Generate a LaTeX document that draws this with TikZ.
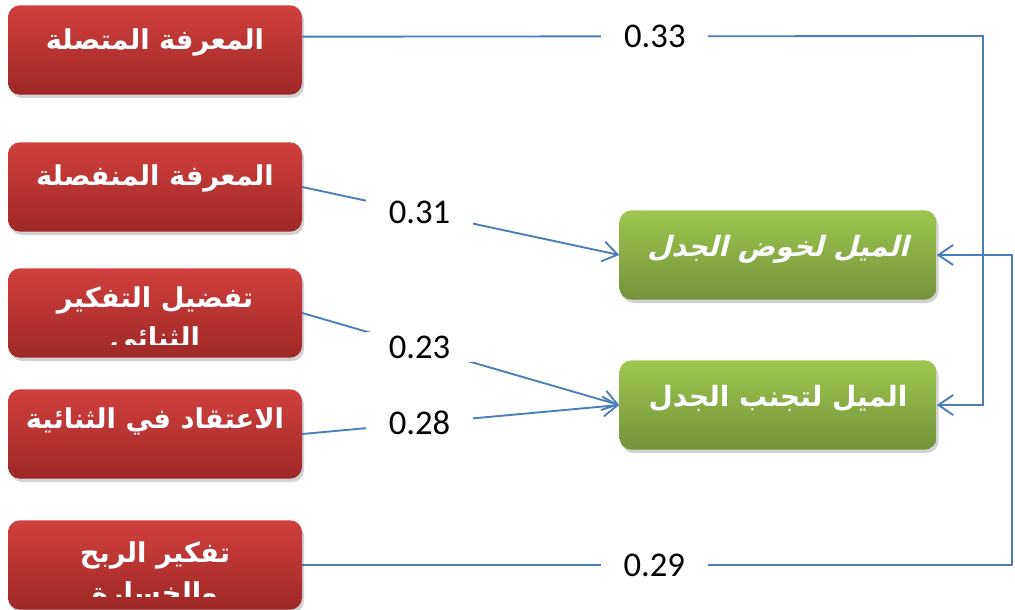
\documentclass[tikz,border=0pt]{standalone}
\usepackage{fontspec}
\setmainfont{Carlito}
\newfontfamily\arab[Script=Arabic]{DejaVu Sans}
\newfontfamily\arabit[Script=Arabic,FakeSlant=0.25]{DejaVu Sans}
\TeXXeTstate=1
\usetikzlibrary{arrows.meta,shadows}
\definecolor{lineblue}{RGB}{74,126,187}
\definecolor{redtop}{RGB}{208,64,62}
\definecolor{redbot}{RGB}{158,40,38}
\definecolor{greentop}{RGB}{158,198,80}
\definecolor{greenbot}{RGB}{116,146,58}
\tikzset{
  redbox/.style={rounded corners=9pt, top color=redtop, bottom color=redbot, draw=none,
    minimum width=220.5pt, minimum height=67pt, inner sep=0pt,
    drop shadow={shadow xshift=1.5pt, shadow yshift=-2.5pt, fill=black!35}},
  greenbox/.style={rounded corners=9pt, top color=greentop, bottom color=greenbot, draw=none,
    minimum width=237.75pt, minimum height=67pt, inner sep=0pt,
    drop shadow={shadow xshift=1.5pt, shadow yshift=-2.5pt, fill=black!35}},
  rtxt/.style={text=white, font=\arab\bfseries\fontsize{20.5}{30}\selectfont, align=center, inner sep=0pt},
  conn/.style={draw=lineblue, line width=1.4pt},
  arr/.style={conn, -{Straight Barb[length=11pt,width=15pt,line width=1.4pt]}},
  lbl/.style={fill=white, inner xsep=17pt, inner ysep=3pt, font=\fontsize{26}{30}\selectfont, text=black}
}
\begin{document}
\begin{tikzpicture}[x=0.75pt,y=-0.75pt]
\useasboundingbox (0,0) rectangle (1015,610);

% red boxes
\node[redbox] (b1) at (155,50) {};
\node[redbox] (b2) at (155,187) {};
\node[redbox] (b3) at (155,313) {};
\node[redbox] (b4) at (155,434) {};
\node[redbox] (b5) at (155,565) {};

\node[rtxt] (t1) at (155,42) {\beginR المعرفة المتصلة\endR};
\node[rtxt] (t2) at (155,178) {\beginR المعرفة المنفصلة\endR};
\begin{scope}
\clip (8,269) rectangle (302,344);
\node[rtxt] (t3) at (155,320) {\beginR تفضيل التفكير\endR\\\beginR الثنائي\endR};
\end{scope}
\node[rtxt] (t4) at (155,421) {\beginR الاعتقاد في الثنائية\endR};
\begin{scope}
\clip (8,522) rectangle (302,596);
\node[rtxt] (t5) at (155,575) {\beginR تفكير الربح\endR\\\beginR والخسارة\endR};
\end{scope}

% green boxes
\node[greenbox] (A) at (778,255) {};
\node[greenbox] (B) at (778,405) {};
\node[rtxt, font=\arabit\bfseries\fontsize{21}{30}\selectfont] (tA) at (778,249) {\beginR الميل لخوض الجدل\endR};
\node[rtxt, font=\arab\bfseries\fontsize{21}{30}\selectfont] (tB) at (778,398) {\beginR الميل لتجنب الجدل\endR};

% connectors
\coordinate (c1) at (983,36);
\coordinate (c5) at (1012,565);
\draw[arr] ([yshift=10pt]b1.east) -- node[lbl, pos=0.518] (l1) {0.33} (c1) |- (B.east);
\draw[arr] (b5.east) -- node[lbl, pos=0.496] (l5) {0.29} (c5) |- (A.east);
\draw[arr] (b2.east) -- node[lbl, pos=0.37] (l2) {0.31} (A.west);
\draw[arr] (b3.east) -- node[lbl, pos=0.37] (l3) {0.23} (B.west);
\draw[arr] (b4.east) -- node[lbl, pos=0.37] (l4) {0.28} (B.west);
\end{tikzpicture}
\end{document}
